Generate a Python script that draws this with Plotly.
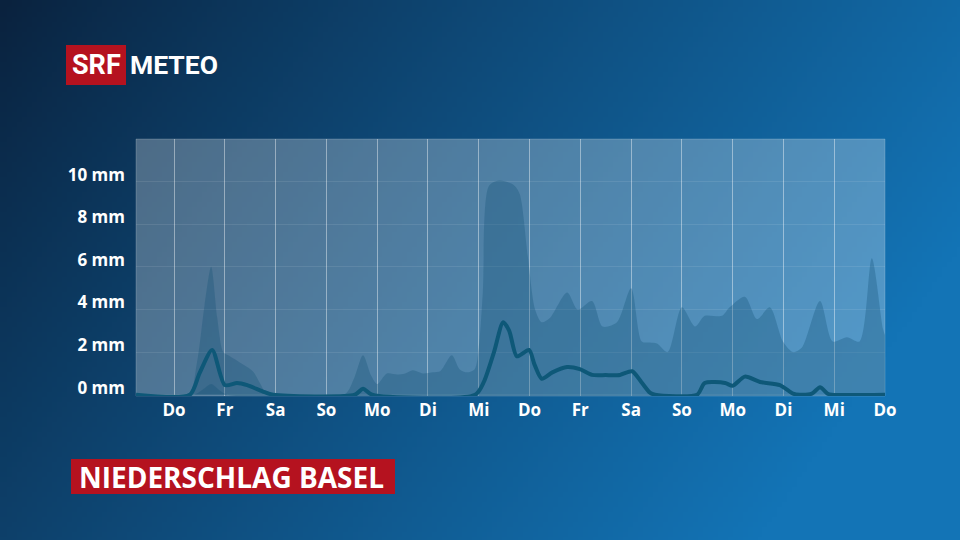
import base64, struct, zlib
import numpy as np
import plotly.graph_objects as go

# ---------------- data ----------------
day_labels = ["Do", "Fr", "Sa", "So", "Mo", "Di", "Mi", "Do", "Fr", "Sa", "So", "Mo", "Di", "Mi", "Do"]
day_pos = list(range(15))
y_ticks = [0, 2, 4, 6, 8, 10]
y_tick_labels = ["0 mm", "2 mm", "4 mm", "6 mm", "8 mm", "10 mm"]

upper_x = [-0.75, 0.28, 0.45, 0.6, 0.73, 0.85, 0.97, 1.1, 1.3, 1.55, 1.7, 1.85,
           3.35, 3.55, 3.72, 3.88, 4.0, 4.19, 4.39, 4.55, 4.7, 4.9, 5.1, 5.24, 5.47,
           5.62, 5.77, 5.92, 6.0, 6.08, 6.2, 6.4, 6.6, 6.71, 6.81, 6.97, 7.11, 7.24,
           7.4, 7.74, 7.95, 8.23, 8.44, 8.72, 9.0, 9.21, 9.37, 9.51, 9.72, 10.0,
           10.26, 10.45, 10.79, 10.94, 11.24, 11.48, 11.73, 11.99, 12.19, 12.36,
           12.72, 12.97, 13.25, 13.5, 13.74, 13.96, 14.0]
upper_y = [0, 0, 1.5, 4.2, 6.0, 3.6, 2.0, 1.8, 1.5, 1.1, 0.5, 0,
           0, 0.8, 1.85, 0.9, 0.5, 1.0, 0.95, 1.0, 1.15, 1.0, 1.05, 1.1, 1.85,
           1.2, 1.05, 1.2, 2.2, 4.8, 9.8, 10.05, 9.95, 9.8, 9.4, 6.4, 4.0, 3.4,
           3.6, 4.8, 4.0, 4.4, 3.2, 3.4, 5.0, 2.5, 2.45, 2.4, 2.0, 4.1,
           3.2, 3.7, 3.7, 4.1, 4.6, 3.55, 4.1, 2.5, 2.0, 2.2,
           4.4, 2.5, 2.7, 2.5, 6.4, 3.1, 2.8]

lower_x = [-0.75, 0.4, 0.6, 0.73, 0.9, 1.05, 14.0]
lower_y = [0, 0, 0.3, 0.5, 0.2, 0, 0]

median_x = [-0.75, 0.31, 0.5, 0.75, 1.0, 1.24, 1.44, 1.75, 1.95, 3.56, 3.72, 3.9,
            5.93, 6.1, 6.3, 6.48, 6.6, 6.75, 6.99, 7.1, 7.24, 7.45, 7.74, 7.99,
            8.23, 8.5, 8.78, 9.02, 9.2, 9.37, 9.47, 10.3, 10.45, 10.85, 11.0,
            11.24, 11.54, 11.93, 12.19, 12.32, 12.56, 12.72, 12.87, 12.95, 14.0]
median_y = [0, 0, 1.0, 2.1, 0.45, 0.55, 0.45, 0.15, 0, 0, 0.28, 0,
            0, 0.6, 2.0, 3.4, 3.0, 1.8, 2.1, 1.4, 0.75, 1.05, 1.3, 1.2,
            0.93, 0.92, 0.93, 1.1, 0.6, 0.1, 0, 0, 0.55, 0.55, 0.42,
            0.85, 0.6, 0.45, 0.05, 0, 0.05, 0.35, 0.05, 0, 0]

title_text = "NIEDERSCHLAG BASEL"

# ---------------- background gradient image ----------------
W, H = 192, 108
u = np.linspace(0, 1, W)[None, :]
v = np.linspace(0, 1, H)[:, None]
t = np.clip(0.85 * u + 0.33 * v, 0, 1) ** 0.9
dark = np.array([10, 34, 62], dtype=float)
bright = np.array([19, 116, 182], dtype=float)
img = (dark[None, None, :] + (bright - dark)[None, None, :] * t[:, :, None]).astype(np.uint8)

def png_bytes(a):
    h, w, _ = a.shape
    raw = b"".join(b"\x00" + a[i].tobytes() for i in range(h))
    def chunk(tag, data):
        c = struct.pack(">I", len(data)) + tag + data
        return c + struct.pack(">I", zlib.crc32(tag + data) & 0xffffffff)
    return (b"\x89PNG\r\n\x1a\n" + chunk(b"IHDR", struct.pack(">IIBBBBB", w, h, 8, 2, 0, 0, 0))
            + chunk(b"IDAT", zlib.compress(raw, 9)) + chunk(b"IEND", b""))

bg_uri = "data:image/png;base64," + base64.b64encode(png_bytes(img)).decode()

# ---------------- figure ----------------
FW, FH = 960, 540
def px(x):
    return x / FW
def py(y):
    return 1 - y / FH

band_color = "rgba(15,80,115,0.30)"
line_color = "rgb(14,88,120)"

fig = go.Figure()
fig.add_trace(go.Scatter(x=upper_x, y=upper_y, mode="lines", fill="tozeroy",
                         fillcolor=band_color, line=dict(width=0, shape="spline", smoothing=0.8),
                         hoverinfo="skip", showlegend=False))
fig.add_trace(go.Scatter(x=lower_x, y=lower_y, mode="lines", fill="tozeroy",
                         fillcolor=band_color, line=dict(width=0, shape="spline", smoothing=0.8),
                         hoverinfo="skip", showlegend=False))
fig.add_trace(go.Scatter(x=median_x, y=median_y, mode="lines",
                         line=dict(width=4, color=line_color, shape="spline", smoothing=0.7),
                         showlegend=False))

font_family = "Open Sans"
logo_font = "Roboto"

fig.update_layout(
    width=FW, height=FH, autosize=False,
    margin=dict(l=0, r=0, t=0, b=0, pad=0, autoexpand=False),
    paper_bgcolor="#0d3b63",
    plot_bgcolor="rgba(0,0,0,0)",
    images=[dict(source=bg_uri, xref="paper", yref="paper", x=0, y=1, sizex=1, sizey=1,
                 xanchor="left", yanchor="top", sizing="stretch", layer="below")],
    xaxis=dict(domain=[px(136), px(885)], range=[-0.75, 14.0], tickvals=day_pos,
               ticktext=day_labels, showgrid=True, gridcolor="rgba(255,255,255,0.42)",
               gridwidth=1, zeroline=False, showline=False, ticks="", automargin=False,
               tickfont=dict(family=font_family, size=17, color="white", weight=700),
               ticklabelstandoff=2, fixedrange=True),
    yaxis=dict(domain=[py(396), py(139)], range=[-0.06, 12.0], tickvals=y_ticks,
               ticktext=y_tick_labels, showgrid=True, gridcolor="rgba(255,255,255,0.09)",
               gridwidth=1, zeroline=False, showline=False, ticks="", automargin=False,
               tickfont=dict(family=font_family, size=17, color="white", weight=700),
               ticklabelshift=-7, ticklabelstandoff=10, fixedrange=True),
    shapes=[
        dict(type="rect", xref="paper", yref="paper", x0=px(136), x1=px(885), y0=py(396), y1=py(139),
             line=dict(color="rgba(255,255,255,0.18)", width=1), fillcolor="rgba(255,255,255,0.27)",
             layer="below"),
        dict(type="rect", xref="paper", yref="paper", x0=px(66), x1=px(126), y0=py(85), y1=py(45),
             line=dict(width=0), fillcolor="#b5121f"),
        dict(type="rect", xref="paper", yref="paper", x0=px(71), x1=px(395), y0=py(494), y1=py(459),
             line=dict(width=0), fillcolor="#b5121f"),
    ],
    annotations=[
        dict(text="SRF", xref="paper", yref="paper", x=px(96), y=py(65), showarrow=False,
             xanchor="center", yanchor="middle",
             font=dict(family=logo_font, size=27, color="white", weight=700)),
        dict(text="METEO", xref="paper", yref="paper", x=px(128), y=py(65), showarrow=False,
             xanchor="left", yanchor="middle",
             font=dict(family=logo_font, size=26.5, color="white", weight=700)),
        dict(text=title_text, xref="paper", yref="paper", x=px(77), y=py(477), showarrow=False,
             xanchor="left", yanchor="middle",
             font=dict(family=font_family, size=28, color="white", weight=700)),
    ],
)

fig.write_html(
    "out.html",
    config={"displayModeBar": False, "responsive": False},
    post_script=("document.documentElement.style.margin='0';"
                 "document.documentElement.style.overflow='hidden';"
                 "document.body.style.margin='0';"
                 "document.body.style.overflow='hidden';"),
)
